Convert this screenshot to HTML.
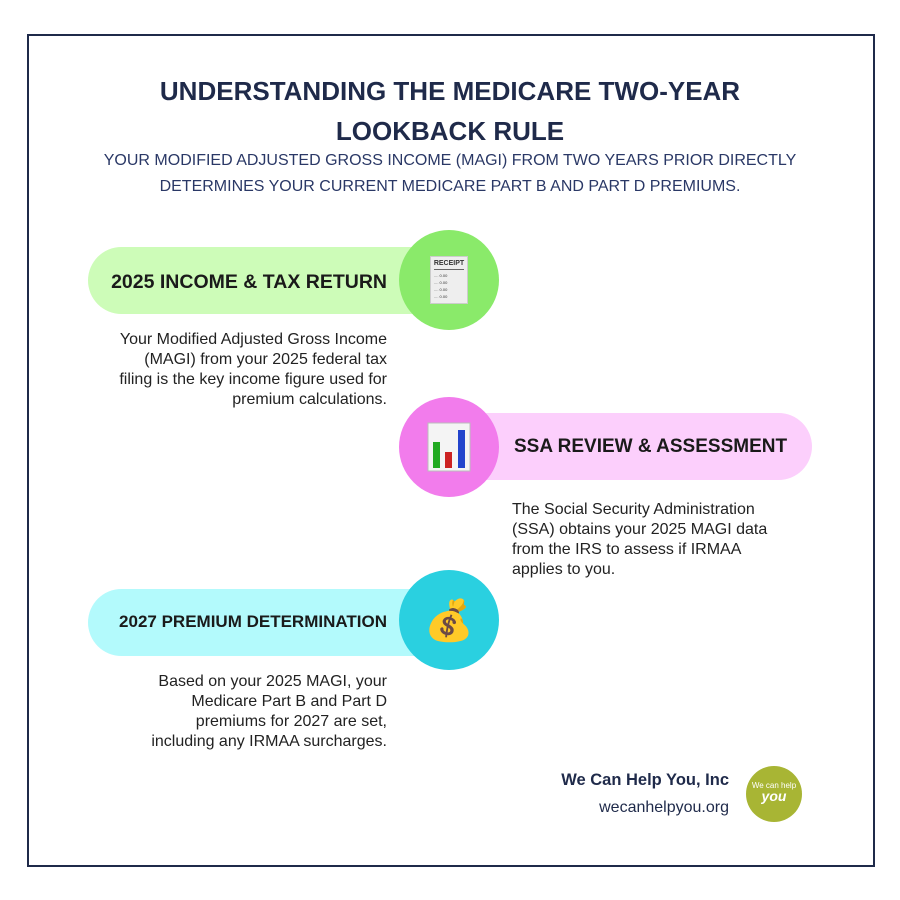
<!DOCTYPE html>
<html><head><meta charset="utf-8"><style>
*{margin:0;padding:0;box-sizing:border-box}
body{width:900px;height:900px;background:#fff;position:relative;font-family:"Liberation Sans",sans-serif;color:#1f2a4a;overflow:hidden}
.frame{position:absolute;left:27px;top:34px;width:848px;height:833px;border:2px solid #1f2a4a}
.t{position:absolute;left:0;width:900px;text-align:center}
.pill{position:absolute;height:67px;border-radius:34px}
.circ{position:absolute;width:100px;height:100px;border-radius:50%;display:flex;align-items:center;justify-content:center;font-size:40px}
.h{position:absolute;font-weight:bold;font-size:19.5px;color:#1a1a1a;white-space:nowrap}
.p{position:absolute;font-size:16px;line-height:20px;color:#222;white-space:nowrap}
</style></head><body>
<div class="frame"></div>
<div class="t" style="top:71px;font-size:26px;font-weight:bold;line-height:40px;color:#1f2a4a">UNDERSTANDING THE MEDICARE TWO-YEAR<br>LOOKBACK RULE</div>
<div class="t" style="top:148px;font-size:16px;line-height:26px;color:#2a3866">YOUR MODIFIED ADJUSTED GROSS INCOME (MAGI) FROM TWO YEARS PRIOR DIRECTLY<br>DETERMINES YOUR CURRENT MEDICARE PART B AND PART D PREMIUMS.</div>

<div class="pill" style="left:88px;top:247px;width:380px;background:#cdfcb8"></div>
<div class="circ" style="left:399px;top:230px;background:#8aea6a"><div style="width:38px;height:48px;background:#eee;border:1px solid #ccc;font-size:7px;font-weight:bold;text-align:center;color:#333;padding-top:3px">RECEIPT<div style="border-top:1px solid #666;margin:2px 3px"></div><div style="font-size:4px;line-height:7px;text-align:left;padding:0 3px;font-weight:normal">.... 0.00<br>.... 0.00<br>.... 0.00<br>.... 0.00</div></div></div>
<div class="h" style="right:513px;top:271px">2025 INCOME &amp; TAX RETURN</div>
<div class="p" style="right:513px;top:330px;text-align:right">Your Modified Adjusted Gross Income<br>(MAGI) from your 2025 federal tax<br>filing is the key income figure used for<br>premium calculations.</div>

<div class="pill" style="left:430px;top:413px;width:382px;background:#fccffc"></div>
<div class="circ" style="left:399px;top:397px;background:#f27cec"><svg width="44" height="50" viewBox="0 0 44 50"><rect x="1" y="1" width="42" height="48" fill="#f4f4f4" stroke="#bbb"/><rect x="6" y="20" width="7" height="26" fill="#2a2"/><rect x="18" y="30" width="7" height="16" fill="#c22"/><rect x="31" y="8" width="7" height="38" fill="#24c"/></svg></div>
<div class="h" style="left:514px;top:436px;font-size:19px">SSA REVIEW &amp; ASSESSMENT</div>
<div class="p" style="left:512px;top:500px">The Social Security Administration<br>(SSA) obtains your 2025 MAGI data<br>from the IRS to assess if IRMAA<br>applies to you.</div>

<div class="pill" style="left:88px;top:589px;width:380px;background:#b3fafc"></div>
<div class="circ" style="left:399px;top:570px;background:#2ad0e0">💰</div>
<div class="h" style="right:513px;top:612px;font-size:17px">2027 PREMIUM DETERMINATION</div>
<div class="p" style="right:513px;top:672px;text-align:right">Based on your 2025 MAGI, your<br>Medicare Part B and Part D<br>premiums for 2027 are set,<br>including any IRMAA surcharges.</div>

<div style="position:absolute;right:171px;top:771px;font-weight:bold;font-size:16.5px;color:#1f2a4a">We Can Help You, Inc</div>
<div style="position:absolute;right:171px;top:799px;font-size:16px;color:#1f2a4a">wecanhelpyou.org</div>
<div style="position:absolute;left:746px;top:766px;width:56px;height:56px;border-radius:50%;background:#a8b534;color:#fff;text-align:center;font-size:8px;padding-top:14px;line-height:11px">We can help<br><i style="font-size:14px;font-weight:bold">you</i></div>
</body></html>
